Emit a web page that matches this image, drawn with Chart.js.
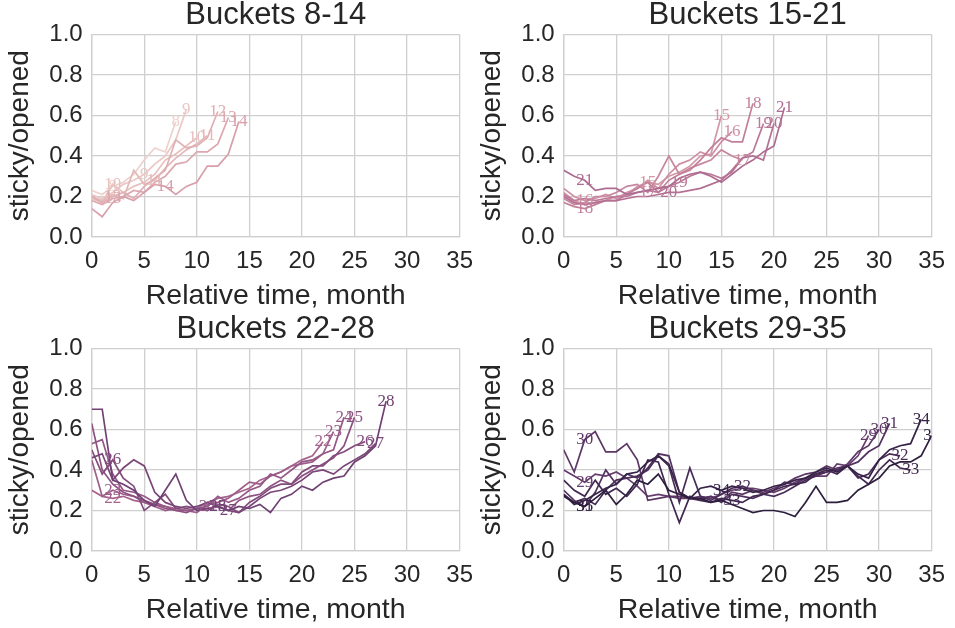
<!DOCTYPE html>
<html>
<head>
<meta charset="utf-8">
<script src="https://cdn.jsdelivr.net/npm/chart.js@4.4.1/dist/chart.umd.min.js"></script>
<style>
  html, body { margin: 0; padding: 0; background: #fff; }
  #wrap { position: relative; width: 955px; height: 628px; overflow: hidden; }
  .panel { position: absolute; width: 483px; height: 314px; }
</style>
</head>
<body>
<div id="wrap">
  <div class="panel" style="left:0;top:0"><canvas id="c1" width="483" height="314"></canvas></div>
  <div class="panel" style="left:472px;top:0"><canvas id="c2" width="483" height="314"></canvas></div>
  <div class="panel" style="left:0;top:314px"><canvas id="c3" width="483" height="314"></canvas></div>
  <div class="panel" style="left:472px;top:314px"><canvas id="c4" width="483" height="314"></canvas></div>
</div>
<script>
// tick labels
const xTicks = [0, 5, 10, 15, 20, 25, 30, 35];
const yTicks = [0.0, 0.2, 0.4, 0.6, 0.8, 1.0];

// sticky/opened per bucket, one value per relative month (0..bucket)
const b8  = [0.23, 0.21, 0.25, 0.27, 0.31, 0.38, 0.44, 0.42, 0.57];
const b9  = [0.21, 0.19, 0.22, 0.26, 0.28, 0.31, 0.36, 0.40, 0.48, 0.63];
const b10 = [0.19, 0.17, 0.26, 0.22, 0.25, 0.27, 0.31, 0.38, 0.41, 0.45, 0.49];
const b11 = [0.20, 0.18, 0.21, 0.19, 0.33, 0.26, 0.28, 0.34, 0.39, 0.43, 0.46, 0.50];
const b12 = [0.20, 0.17, 0.20, 0.22, 0.19, 0.25, 0.29, 0.33, 0.48, 0.44, 0.45, 0.49, 0.62];
const b13 = [0.18, 0.16, 0.19, 0.20, 0.23, 0.22, 0.27, 0.30, 0.36, 0.37, 0.42, 0.42, 0.46, 0.59];
const b14 = [0.14, 0.10, 0.17, 0.20, 0.18, 0.22, 0.26, 0.25, 0.21, 0.25, 0.27, 0.35, 0.35, 0.41, 0.57];

const b15 = [0.22, 0.18, 0.16, 0.17, 0.18, 0.20, 0.21, 0.25, 0.27, 0.26, 0.30, 0.32, 0.35, 0.40, 0.41, 0.60];
const b16 = [0.24, 0.20, 0.18, 0.19, 0.21, 0.19, 0.22, 0.24, 0.28, 0.24, 0.31, 0.36, 0.38, 0.42, 0.40, 0.47, 0.52];
const b17 = [0.19, 0.16, 0.17, 0.20, 0.20, 0.22, 0.25, 0.26, 0.22, 0.30, 0.40, 0.31, 0.34, 0.36, 0.38, 0.43, 0.40, 0.38];
const b18 = [0.17, 0.15, 0.14, 0.16, 0.18, 0.18, 0.21, 0.24, 0.27, 0.22, 0.28, 0.31, 0.33, 0.38, 0.44, 0.49, 0.47, 0.47, 0.66];
const b19 = [0.21, 0.18, 0.19, 0.18, 0.19, 0.20, 0.20, 0.22, 0.23, 0.22, 0.25, 0.27, 0.30, 0.32, 0.31, 0.29, 0.32, 0.39, 0.42, 0.56];
const b20 = [0.20, 0.17, 0.16, 0.17, 0.18, 0.18, 0.19, 0.20, 0.20, 0.21, 0.22, 0.22, 0.23, 0.24, 0.26, 0.28, 0.33, 0.39, 0.40, 0.38, 0.56];
const b21 = [0.33, 0.30, 0.28, 0.23, 0.24, 0.24, 0.21, 0.22, 0.23, 0.24, 0.25, 0.29, 0.31, 0.32, 0.30, 0.27, 0.31, 0.35, 0.38, 0.42, 0.45, 0.64];

const b22 = [0.30, 0.27, 0.26, 0.27, 0.25, 0.24, 0.23, 0.22, 0.21, 0.20, 0.21, 0.24, 0.26, 0.27, 0.29, 0.31, 0.35, 0.37, 0.39, 0.42, 0.45, 0.47, 0.54];
const b23 = [0.45, 0.27, 0.30, 0.28, 0.27, 0.24, 0.22, 0.20, 0.21, 0.20, 0.19, 0.23, 0.24, 0.26, 0.30, 0.34, 0.33, 0.37, 0.39, 0.42, 0.43, 0.44, 0.48, 0.59];
const b24 = [0.53, 0.55, 0.38, 0.30, 0.29, 0.27, 0.24, 0.22, 0.20, 0.20, 0.21, 0.22, 0.27, 0.24, 0.26, 0.30, 0.32, 0.38, 0.36, 0.40, 0.44, 0.45, 0.48, 0.50, 0.66];
const b25 = [0.63, 0.40, 0.33, 0.29, 0.27, 0.25, 0.23, 0.21, 0.20, 0.19, 0.21, 0.21, 0.22, 0.20, 0.25, 0.27, 0.28, 0.32, 0.35, 0.33, 0.37, 0.40, 0.43, 0.46, 0.52, 0.66];
const b26 = [0.50, 0.38, 0.45, 0.36, 0.32, 0.20, 0.24, 0.28, 0.21, 0.22, 0.21, 0.20, 0.23, 0.22, 0.19, 0.24, 0.27, 0.31, 0.33, 0.33, 0.39, 0.42, 0.42, 0.47, 0.49, 0.52, 0.54];
const b27 = [0.46, 0.48, 0.35, 0.41, 0.45, 0.42, 0.29, 0.24, 0.22, 0.21, 0.22, 0.24, 0.22, 0.20, 0.19, 0.22, 0.26, 0.29, 0.30, 0.32, 0.35, 0.39, 0.40, 0.38, 0.42, 0.45, 0.48, 0.53];
const b28 = [0.70, 0.70, 0.35, 0.33, 0.30, 0.25, 0.22, 0.30, 0.38, 0.25, 0.20, 0.21, 0.22, 0.20, 0.22, 0.21, 0.23, 0.19, 0.26, 0.28, 0.32, 0.30, 0.34, 0.36, 0.37, 0.44, 0.47, 0.52, 0.74];

const b29 = [0.40, 0.37, 0.34, 0.38, 0.37, 0.39, 0.36, 0.32, 0.27, 0.28, 0.27, 0.26, 0.26, 0.27, 0.26, 0.28, 0.30, 0.31, 0.31, 0.30, 0.29, 0.31, 0.34, 0.36, 0.37, 0.37, 0.43, 0.42, 0.47, 0.57];
const b30 = [0.50, 0.39, 0.55, 0.59, 0.49, 0.49, 0.53, 0.45, 0.25, 0.26, 0.27, 0.27, 0.26, 0.26, 0.27, 0.25, 0.29, 0.28, 0.30, 0.29, 0.31, 0.33, 0.36, 0.38, 0.39, 0.42, 0.40, 0.43, 0.49, 0.52, 0.60];
const b31 = [0.30, 0.25, 0.22, 0.29, 0.40, 0.33, 0.38, 0.36, 0.41, 0.48, 0.47, 0.29, 0.26, 0.25, 0.27, 0.24, 0.28, 0.27, 0.26, 0.28, 0.30, 0.34, 0.33, 0.36, 0.38, 0.39, 0.41, 0.42, 0.44, 0.49, 0.52, 0.63];
const b32 = [0.28, 0.24, 0.26, 0.23, 0.30, 0.35, 0.36, 0.37, 0.40, 0.47, 0.42, 0.24, 0.41, 0.27, 0.25, 0.28, 0.31, 0.32, 0.30, 0.28, 0.27, 0.29, 0.32, 0.35, 0.37, 0.39, 0.40, 0.42, 0.36, 0.38, 0.45, 0.48, 0.47];
const b33 = [0.35, 0.30, 0.27, 0.35, 0.28, 0.31, 0.27, 0.33, 0.45, 0.44, 0.28, 0.14, 0.27, 0.25, 0.24, 0.26, 0.25, 0.24, 0.27, 0.28, 0.30, 0.32, 0.33, 0.34, 0.38, 0.40, 0.38, 0.42, 0.37, 0.33, 0.40, 0.45, 0.41, 0.40];
const b34 = [0.28, 0.23, 0.25, 0.28, 0.31, 0.33, 0.38, 0.39, 0.44, 0.47, 0.43, 0.29, 0.26, 0.31, 0.32, 0.30, 0.32, 0.31, 0.29, 0.30, 0.32, 0.33, 0.35, 0.36, 0.39, 0.41, 0.39, 0.42, 0.38, 0.36, 0.45, 0.50, 0.52, 0.53, 0.65];
const b35 = [0.27, 0.24, 0.22, 0.26, 0.30, 0.23, 0.28, 0.35, 0.33, 0.38, 0.30, 0.28, 0.26, 0.26, 0.24, 0.25, 0.23, 0.21, 0.19, 0.20, 0.20, 0.19, 0.17, 0.24, 0.32, 0.24, 0.24, 0.25, 0.30, 0.33, 0.36, 0.42, 0.44, 0.44, 0.47, 0.57];

// which month gets the extra in-line bucket label
const midLabel1 = [2, 5, 2, 6, 2, 2, 7];
const midLabel2 = [8, 2, 8, 2, 11, 10, 2];
const midLabel3 = [2, 2, 11, 12, 2, 13, 12];
const midLabel4 = [2, 2, 2, 17, 16, 15, 2];

const panels = [
    { id: 'c1', title: 'Buckets 8-14',  first: 8,  series: [b8, b9, b10, b11, b12, b13, b14], mid: midLabel1 },
    { id: 'c2', title: 'Buckets 15-21', first: 15, series: [b15, b16, b17, b18, b19, b20, b21], mid: midLabel2 },
    { id: 'c3', title: 'Buckets 22-28', first: 22, series: [b22, b23, b24, b25, b26, b27, b28], mid: midLabel3 },
    { id: 'c4', title: 'Buckets 29-35', first: 29, series: [b29, b30, b31, b32, b33, b34, b35], mid: midLabel4 },
];

// seaborn-ish cubehelix palette (light -> dark), one colour per bucket 8..35
function cubehelix(x) {
    const phi = 2 * Math.PI * (0.4 * x);
    const a = 0.8 * x * (1 - x) / 2;
    const c = Math.cos(phi), s = Math.sin(phi);
    const r = x + a * (-0.14861 * c + 1.78277 * s);
    const g = x + a * (-0.29227 * c - 0.90649 * s);
    const b = x + a * (1.97294 * c);
    const f = v => Math.round(Math.max(0, Math.min(1, v)) * 255);
    return 'rgb(' + f(r) + ',' + f(g) + ',' + f(b) + ')';
}
const nColors = 28;
function bucketColor(bucket) {
    const i = bucket - 8;
    return cubehelix(0.85 - i * (0.7 / (nColors - 1)));
}

const textColor = '#262626';
const gridColor = '#cfcfcf';
const sans = "'Liberation Sans', Arial, sans-serif";

// writes the bucket number on the line (mid point + last point)
const bucketLabels = {
    id: 'bucketLabels',
    afterDatasetsDraw(chart) {
        const ctx = chart.ctx;
        const area = chart.chartArea;
        const xs = chart.scales.x, ys = chart.scales.y;
        ctx.save();
        ctx.beginPath();
        ctx.rect(area.left, area.top, area.right - area.left, area.bottom - area.top);
        ctx.clip();
        ctx.font = "17px 'Liberation Serif', 'DejaVu Serif', serif";
        ctx.textAlign = 'center';
        ctx.textBaseline = 'middle';
        chart.data.datasets.forEach(ds => {
            ctx.fillStyle = ds.borderColor;
            ds.labelAt.forEach(i => {
                const p = ds.data[i];
                ctx.fillText(ds.label, xs.getPixelForValue(p.x), ys.getPixelForValue(p.y));
            });
        });
        ctx.restore();
    }
};

panels.forEach(panel => {
    const datasets = panel.series.map((vals, k) => {
        const bucket = panel.first + k;
        return {
            label: String(bucket),
            data: vals.map((v, i) => ({ x: i, y: v })),
            borderColor: bucketColor(bucket),
            borderWidth: 1.7,
            pointRadius: 0,
            tension: 0,
            fill: false,
            order: -bucket,
            labelAt: [panel.mid[k], vals.length - 1]
        };
    });

    new Chart(document.getElementById(panel.id), {
        type: 'line',
        data: { datasets: datasets },
        options: {
            responsive: false,
            animation: false,
            layout: { padding: { left: 0, right: 19.7, top: 0, bottom: 0 } },
            scales: {
                x: {
                    type: 'linear',
                    min: 0,
                    max: 35,
                    afterBuildTicks: axis => { axis.ticks = xTicks.map(v => ({ value: v })); },
                    afterFit: axis => { axis.height = 77; },
                    grid: { color: gridColor, lineWidth: 1.3, drawTicks: false },
                    border: { color: gridColor, width: 1.3 },
                    ticks: {
                        color: textColor,
                        font: { family: sans, size: 24 },
                        padding: 10,
                        maxRotation: 0
                    },
                    title: {
                        display: true,
                        text: 'Relative time, month',
                        color: textColor,
                        font: { family: sans, size: 28.5, lineHeight: 1.2 },
                        padding: { top: 0, bottom: 1 }
                    }
                },
                y: {
                    min: 0,
                    max: 1,
                    afterBuildTicks: axis => { axis.ticks = yTicks.map(v => ({ value: v })); },
                    afterFit: axis => { axis.width = 91.7; },
                    grid: { color: gridColor, lineWidth: 1.3, drawTicks: false },
                    border: { color: gridColor, width: 1.3 },
                    ticks: {
                        color: textColor,
                        font: { family: sans, size: 24 },
                        padding: 9,
                        callback: v => v.toFixed(1)
                    },
                    title: {
                        display: true,
                        text: 'sticky/opened',
                        color: textColor,
                        font: { family: sans, size: 28, lineHeight: 1.2 },
                        padding: { top: 3.5, bottom: 0 }
                    }
                }
            },
            plugins: {
                legend: { display: false },
                tooltip: { enabled: false },
                title: {
                    display: true,
                    text: panel.title,
                    color: textColor,
                    fullSize: false,
                    font: { family: sans, size: 31, weight: 'normal', lineHeight: 0.8 },
                    padding: { top: 3.5, bottom: 6.2 }
                }
            }
        },
        plugins: [bucketLabels]
    });
});
</script>
</body>
</html>
